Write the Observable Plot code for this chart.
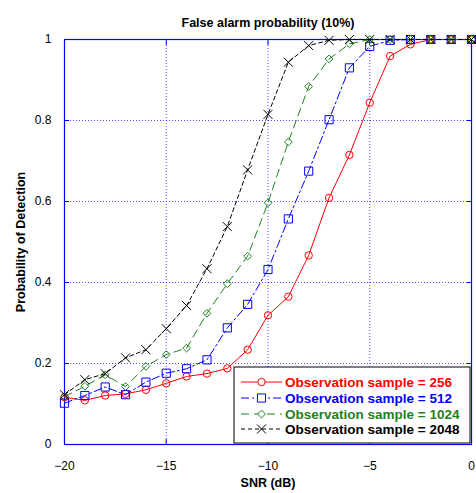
<!DOCTYPE html>
<html><head><meta charset="utf-8">
<script src="https://cdn.jsdelivr.net/npm/d3@7"></script>
<script src="https://cdn.jsdelivr.net/npm/@observablehq/plot@0.6"></script>
<style>body{margin:0;background:#fff;font-family:"Liberation Sans",Arial,sans-serif}</style>
</head><body><div id="chart"></div>
<script>
const snr = [-20,-19,-18,-17,-16,-15,-14,-13,-12,-11,-10,-9,-8,-7,-6,-5,-4,-3,-2,-1,0];
const pd256  = [0.117,0.109,0.121,0.125,0.135,0.151,0.168,0.175,0.188,0.234,0.319,0.365,0.467,0.609,0.715,0.844,0.959,0.988,1,1,1];
const pd512  = [0.102,0.121,0.142,0.123,0.154,0.176,0.187,0.209,0.288,0.346,0.432,0.557,0.675,0.802,0.930,0.983,0.998,1,1,1,1];
const pd1024 = [0.118,0.144,0.172,0.143,0.193,0.222,0.238,0.324,0.397,0.465,0.597,0.747,0.884,0.952,0.989,1,1,1,1,1,1];
const pd2048 = [0.123,0.160,0.175,0.214,0.234,0.286,0.343,0.434,0.538,0.678,0.815,0.944,0.985,0.998,1,1,1,1,1,1,1];
const seriesNames = ["Observation sample = 256","Observation sample = 512","Observation sample = 1024","Observation sample = 2048"];
const xTicks = [-20,-15,-10,-5,0];
const yTicks = [0,0.2,0.4,0.6,0.8,1];
const titleText = "False alarm probability (10%)";
const xLabel = "SNR (dB)";
const yLabel = "Probability of Detection";

const styles = [
  {color:"#ff0000", dash:null, symbol:"circle", r:3.7},
  {color:"#0000ff", dash:"8,3,2,3", symbol:"square", r:4.6},
  {color:"#1f7f1f", dash:"8,5", symbol:"diamond2", r:3.5},
  {color:"#000000", dash:"4,3", symbol:"times", r:4.2}
];
const allVals = [pd256, pd512, pd1024, pd2048];
const data = allVals.map((vals,i)=> snr.map((x,j)=>({x, y: vals[j], s: i})));

const marks = [
  Plot.gridX(xTicks, {stroke:"#0000ff", strokeOpacity:0.7, strokeDasharray:"1,2"}),
  Plot.gridY(yTicks, {stroke:"#0000ff", strokeOpacity:0.7, strokeDasharray:"1,2"}),
  Plot.axisX(xTicks, {anchor:"bottom", tickSize:-5, stroke:"#0000ff", tickPadding:22, fontSize:12, label:xLabel, labelAnchor:"center", labelOffset:42, labelArrow:"none", fill:"#000"}),
  Plot.axisX(xTicks, {anchor:"top", tickSize:-5, stroke:"#0000ff", tickFormat:()=>"", label:null}),
  Plot.axisY(yTicks, {anchor:"left", tickSize:-5, stroke:"#0000ff", tickPadding:18, fontSize:12, tickFormat:d=>String(d), label:yLabel, labelAnchor:"center", labelOffset:48, labelArrow:"none", fill:"#000"}),
  Plot.axisY(yTicks, {anchor:"right", tickSize:-5, stroke:"#0000ff", tickFormat:()=>"", label:null}),
  Plot.frame({stroke:"#0000ff", strokeWidth:1.2})
];
data.forEach((d,i)=>{
  const st = styles[i];
  marks.push(Plot.line(d, {x:"x", y:"y", stroke:st.color, strokeWidth:1, strokeDasharray:st.dash||undefined}));
  marks.push(Plot.dot(d, {x:"x", y:"y", stroke:st.color, fill:"none", symbol:()=>st.symbol, r:st.r, strokeWidth:1}));
});
marks.push(Plot.text([titleText], {frameAnchor:"top", dy:-21, fontWeight:"bold", fontSize:12.5, fill:"#000"}));

const svg = Plot.plot({
  width:476, height:493,
  marginLeft:64, marginRight:5, marginTop:39, marginBottom:49,
  style:{fontFamily:"'Liberation Sans', Arial, sans-serif", fontSize:"12px", background:"#fff"},
  x:{domain:[-20,0]},
  y:{domain:[0,1]},
  marks
});
document.getElementById("chart").appendChild(svg);

// bold axis labels
d3.select(svg).selectAll('g[aria-label="x-axis label"], g[aria-label="y-axis label"]')
  .attr("font-weight","bold").attr("font-size","12.5px");

// legend
const g = d3.select(svg).append("g").attr("text-anchor","start");
g.append("rect").attr("x",234).attr("y",367).attr("width",236).attr("height",76)
  .attr("fill","#fff").attr("stroke","#000").attr("stroke-width",1);
const rowY = [382,398,414,429];
const symMap = {circle:d3.symbolCircle, square:d3.symbolSquare, diamond2:d3.symbolDiamond2, times:d3.symbolTimes};
styles.forEach((st,i)=>{
  const y = rowY[i];
  g.append("line").attr("x1",241).attr("x2",282).attr("y1",y).attr("y2",y)
    .attr("stroke",st.color).attr("stroke-width",1).attr("stroke-dasharray",st.dash);
  g.append("path").attr("transform",`translate(261.5,${y})`)
    .attr("d", d3.symbol(symMap[st.symbol], Math.PI*st.r*st.r)())
    .attr("fill","#fff").attr("stroke",st.color);
  g.append("text").attr("x",285).attr("y",y).attr("dy","0.35em")
    .attr("text-anchor","start")
    .attr("fill",st.color).attr("font-weight","bold").attr("font-size","13.5px")
    .text(seriesNames[i]);
});
</script></body></html>
